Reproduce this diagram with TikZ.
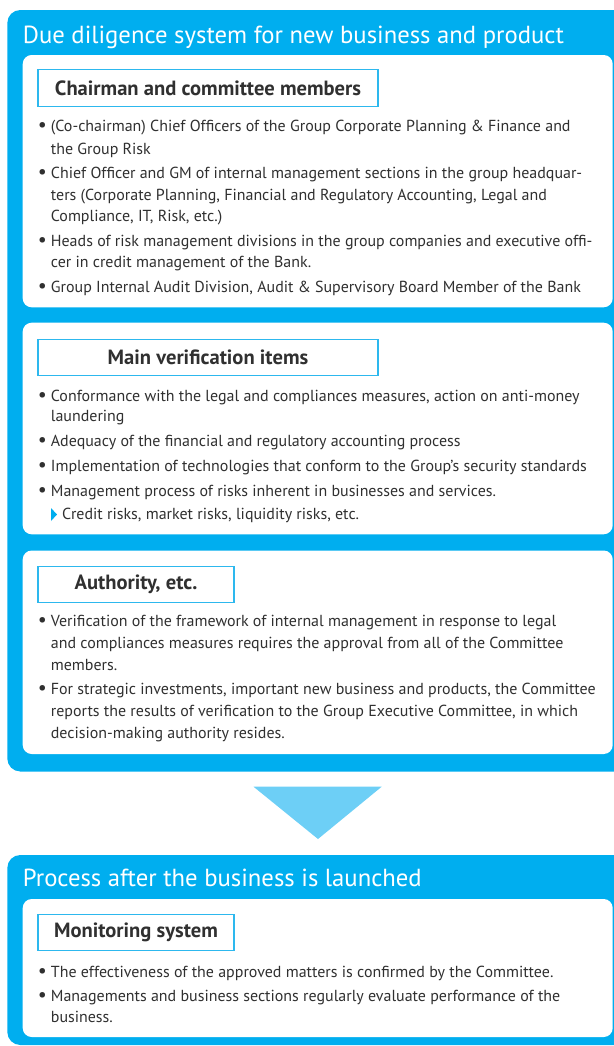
\documentclass[tikz,border=0pt]{standalone}
\usepackage{fontspec}
\setmainfont{PT Sans}
\definecolor{cblue}{HTML}{00AEEF}
\definecolor{hblue}{HTML}{2DB8EE}
\definecolor{tri}{HTML}{6DCFF6}
\definecolor{txt}{HTML}{303030}
\newlength\mywd
\newcommand\fitsize[4]{\settowidth\mywd{\normalfont#2\fontsize{10}{12}\selectfont #4}\pgfmathsetmacro#1{10*#3*1.00375/\mywd}}
\tikzset{
  body/.style={anchor=base west, inner sep=0pt, text=txt, font=\fontsize{\bodysize}{\bodysize}\selectfont},
  bul/.style={anchor=base west, inner sep=0pt, text=txt, font=\fontsize{\bulsize}{\bulsize}\selectfont},
  ttl/.style={anchor=base west, inner sep=0pt, text=white, font=\fontsize{\titlesize}{\titlesize}\selectfont},
  head/.style={draw=hblue, line width=1.1bp, fill=white, inner sep=0pt, text=txt,
    font=\bfseries\fontsize{\headsize}{\headsize}\selectfont, minimum height=36.5bp},
  bluebox/.style={fill=cblue, rounded corners=13bp},
  whitebox/.style={fill=white, rounded corners=9bp},
}
\begin{document}
\fitsize{\bodysize}{}{530}{Group Internal Audit Division, Audit \& Supervisory Board Member of the Bank}%
\pgfmathsetmacro\bulsize{1.25*\bodysize}%
\fitsize{\titlesize}{}{541}{Due diligence system for new business and product}%
\fitsize{\headsize}{\bfseries}{306}{Chairman and committee members}%
\begin{tikzpicture}[x=1bp,y=-1bp]
\useasboundingbox (0,0) rectangle (614,1046);
\clip (0,0) rectangle (614,1046);
% blue frames
\fill[bluebox] (7.3,10) rectangle (640,771.5);
\fill[bluebox] (7.3,855) rectangle (640,1045);
% white panels
\fill[whitebox] (22.7,55) rectangle (612.7,307.3);
\fill[whitebox] (22.7,322.7) rectangle (612.7,534.3);
\fill[whitebox] (22.7,550.5) rectangle (612.7,754);
\fill[whitebox] (22.7,899) rectangle (612.7,1037);
% titles
\node[ttl] (title1) at (22.7,43) {Due diligence system for new business and product};
\node[ttl] (title2) at (22.7,886.7) {Process after the business is launched};
% headings
\node[head, minimum width=340bp] (h1) at (208,88) {Chairman and committee members};
\node[head, minimum width=340bp] (h2) at (208,357.5) {Main verification items};
\node[head, minimum width=196bp] (h3) at (136,584.5) {Authority, etc.};
\node[head, minimum width=196bp] (h4) at (136,932.5) {Monitoring system};
% box 1
\node[bul] (b11) at (37.8,131.7) {•};
\node[body] (l11a) at (50.7,131.7) {(Co-chairman) Chief Officers of the Group Corporate Planning \& Finance and};
\node[body] (l11b) at (50.7,154) {the Group Risk};
\node[bul] (b12) at (37.8,178) {•};
\node[body] (l12a) at (50.7,178) {Chief Officer and GM of internal management sections in the group headquar-};
\node[body] (l12b) at (50.7,200) {ters (Corporate Planning, Financial and Regulatory Accounting, Legal and};
\node[body] (l12c) at (50.7,221) {Compliance, IT, Risk, etc.)};
\node[bul] (b13) at (37.8,246.7) {•};
\node[body] (l13a) at (50.7,246.7) {Heads of risk management divisions in the group companies and executive offi-};
\node[body] (l13b) at (50.7,267) {cer in credit management of the Bank.};
\node[bul] (b14) at (37.8,292.7) {•};
\node[body] (l14a) at (50.7,292.7) {Group Internal Audit Division, Audit \& Supervisory Board Member of the Bank};
% box 2
\node[bul] (b21) at (37.8,401) {•};
\node[body] (l21a) at (50.7,401) {Conformance with the legal and compliances measures, action on anti-money};
\node[body] (l21b) at (50.7,421.7) {laundering};
\node[bul] (b22) at (37.8,446.5) {•};
\node[body] (l22a) at (50.7,446.5) {Adequacy of the financial and regulatory accounting process};
\node[bul] (b23) at (37.8,471) {•};
\node[body] (l23a) at (50.7,471) {Implementation of technologies that conform to the Group’s security standards};
\node[bul] (b24) at (37.8,496.5) {•};
\node[body] (l24a) at (50.7,496.5) {Management process of risks inherent in businesses and services.};
\fill[cblue] (51,508) -- (57,514.5) -- (51,521) -- cycle;
\node[body] (l24b) at (62,519) {Credit risks, market risks, liquidity risks, etc.};
% box 3
\node[bul] (b31) at (37.8,626) {•};
\node[body] (l31a) at (50.7,626) {Verification of the framework of internal management in response to legal};
\node[body] (l31b) at (50.7,648) {and compliances measures requires the approval from all of the Committee};
\node[body] (l31c) at (50.7,670) {members.};
\node[bul] (b32) at (37.8,694) {•};
\node[body] (l32a) at (50.7,694) {For strategic investments, important new business and products, the Committee};
\node[body] (l32b) at (50.7,716) {reports the results of verification to the Group Executive Committee, in which};
\node[body] (l32c) at (50.7,738) {decision-making authority resides.};
% arrow triangle
\fill[tri] (253.5,786.7) -- (381.7,786.7) -- (318,839) -- cycle;
% box 4
\node[bul] (b41) at (37.8,977) {•};
\node[body] (l41a) at (50.7,977) {The effectiveness of the approved matters is confirmed by the Committee.};
\node[bul] (b42) at (37.8,1001) {•};
\node[body] (l42a) at (50.7,1001) {Managements and business sections regularly evaluate performance of the};
\node[body] (l42b) at (50.7,1022) {business.};
\end{tikzpicture}
\end{document}
